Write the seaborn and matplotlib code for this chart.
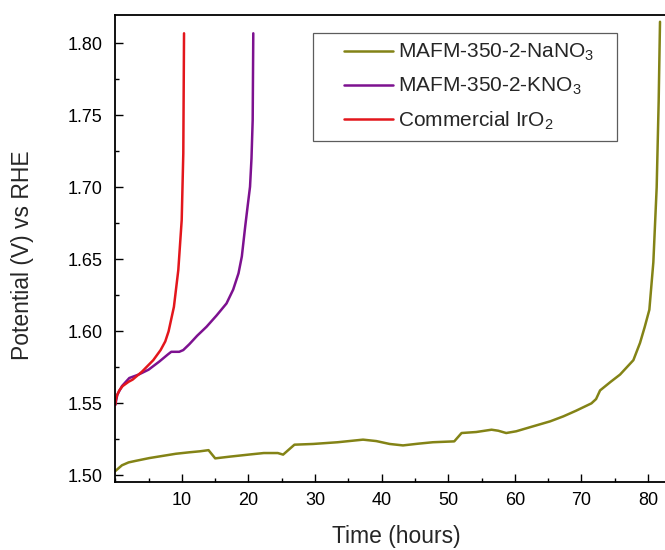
import matplotlib
matplotlib.use("Agg")
import matplotlib.pyplot as plt
from matplotlib.ticker import MultipleLocator
from matplotlib.legend_handler import HandlerLine2D
import seaborn as sns
import pandas as pd

# ---- data ----
series_names = ["MAFM-350-2-NaNO$_3$", "MAFM-350-2-KNO$_3$", "Commercial IrO$_2$"]
series_colors = ["#838316", "#7d1190", "#e3161c"]

t_na = [0, 0.5, 1, 2, 3, 5.1, 7.1, 9.1, 11.1, 12.7, 14.0, 15.0, 17.2, 20.2, 22.3, 24.4,
        25.2, 26.9, 29.7, 33.4, 37.2, 39.2, 41.2, 43.2, 45.5, 47.7, 50.9, 52.0, 54.2,
        56.5, 57.5, 58.7, 60.2, 62.7, 65.3, 67.3, 69.2, 71.5, 72.2, 72.8, 74.4, 75.8,
        77.8, 78.8, 79.5, 80.2, 80.8, 81.3, 81.6, 81.8]
v_na = [1.503, 1.505, 1.507, 1.509, 1.510, 1.512, 1.5135, 1.515, 1.516, 1.5167, 1.5175,
        1.5118, 1.513, 1.5145, 1.5155, 1.5155, 1.5144, 1.5213, 1.5218, 1.523, 1.5248,
        1.5238, 1.5218, 1.5208, 1.522, 1.523, 1.5236, 1.5294, 1.5301, 1.5317, 1.5310,
        1.5294, 1.5306, 1.534, 1.5375, 1.541, 1.5449, 1.550, 1.553, 1.559, 1.565,
        1.570, 1.580, 1.592, 1.603, 1.615, 1.648, 1.700, 1.760, 1.815]

t_k = [0, 0.3, 1.0, 2.1, 3.5, 5.0, 6.6, 7.9, 8.4, 9.6, 10.2, 11.1, 12.3, 13.7, 15.2,
       16.7, 17.7, 18.5, 19.0, 19.5, 19.9, 20.23, 20.45, 20.63, 20.72]
v_k = [1.549, 1.556, 1.562, 1.5676, 1.570, 1.5734, 1.579, 1.584, 1.5858, 1.5858, 1.587,
       1.591, 1.597, 1.6032, 1.611, 1.6194, 1.629, 1.6403, 1.652, 1.6726, 1.688,
       1.7004, 1.720, 1.7467, 1.807]

t_ir = [0, 0.1, 0.3, 0.6, 1.1, 2.0, 2.6, 4.0, 5.7, 6.8, 7.5, 8.0, 8.8, 9.46, 9.97,
        10.21, 10.32]
v_ir = [1.549, 1.553, 1.556, 1.559, 1.562, 1.565, 1.5665, 1.572, 1.580, 1.587, 1.593,
        1.600, 1.617, 1.6426, 1.6773, 1.7236, 1.807]

x_ticks = [10, 20, 30, 40, 50, 60, 70, 80]
y_ticks = [1.50, 1.55, 1.60, 1.65, 1.70, 1.75, 1.80]

frames = []
for name, t, v in zip(series_names, [t_na, t_k, t_ir], [v_na, v_k, v_ir]):
    frames.append(pd.DataFrame({"Time": t, "Potential": v, "Sample": name}))
df = pd.concat(frames, ignore_index=True)

sns.set_theme(style="ticks")
plt.rcParams["font.family"] = ["Liberation Sans", "DejaVu Sans"]
plt.rcParams["mathtext.fontset"] = "custom"
plt.rcParams["mathtext.rm"] = "Liberation Sans"
plt.rcParams["mathtext.it"] = "Liberation Sans:italic"

fig = plt.figure(figsize=(6.65, 5.5), dpi=100)
ax = fig.add_axes([0.1734, 0.1242, 0.8266, 0.8485])

sns.lineplot(data=df, x="Time", y="Potential", hue="Sample", hue_order=series_names,
             palette=series_colors, sort=False, estimator=None, units="Sample",
             linewidth=1.8, ax=ax)

ax.set_xlim(0, 82.55)
ax.set_ylim(1.4956, 1.8197)
ax.set_xticks(x_ticks)
ax.set_xticklabels([str(x) for x in x_ticks])
ax.set_yticks(y_ticks)
ax.set_yticklabels([f"{y:.2f}" for y in y_ticks])
ax.xaxis.set_minor_locator(MultipleLocator(5))
ax.yaxis.set_minor_locator(MultipleLocator(0.025))
ax.tick_params(which="both", direction="in", labelsize=13, colors="black",
               width=1.0, top=False, right=False)
ax.tick_params(which="major", length=6)
ax.tick_params(which="minor", length=3.2)
ax.tick_params(axis="y", which="major", pad=9)
ax.tick_params(axis="x", which="major", pad=7.5)

for side in ["left", "bottom", "top"]:
    ax.spines[side].set_linewidth(1.3)
    ax.spines[side].set_color("black")
ax.spines["right"].set_visible(False)

ax.set_xlabel("Time (hours)", fontsize=16.5)
ax.set_ylabel("Potential (V) vs RHE", fontsize=16.5)
ax.xaxis.set_label_coords((396 - 115.3) / 549.7, (481.7 - 537) / 466.7)
ax.xaxis.label.set_verticalalignment("center")
ax.yaxis.set_label_coords((22 - 115.3) / 549.7, (481.7 - 255) / 466.7)
ax.yaxis.label.set_verticalalignment("center")


class OffsetLineHandler(HandlerLine2D):
    """Line handle that leaves a blank gap on its left, like the original legend."""
    def get_xdata(self, legend, xdescent, ydescent, width, height, fontsize):
        gap = 1.05 * fontsize
        return [-xdescent + gap, -xdescent + width], [-xdescent + 0.5 * width]


leg_x0 = (313 - 115.3) / 549.7
leg_x1 = (617 - 115.3) / 549.7
leg_top = (481.7 - 32.7) / 466.7

handles, labels = ax.get_legend_handles_labels()
leg = ax.legend(handles, labels, loc="upper left",
                bbox_to_anchor=(leg_x0, leg_top - 0.3, leg_x1 - leg_x0, 0.3),
                mode="expand",
                fontsize=15, frameon=True, fancybox=False, handlelength=3.4,
                borderpad=0.45, labelspacing=0.6, handletextpad=0.25,
                borderaxespad=0.0,
                handler_map={h: OffsetLineHandler() for h in handles})
leg.get_frame().set_edgecolor("#333333")
leg.get_frame().set_linewidth(0.9)
for h in leg.legend_handles:
    h.set_linewidth(1.8)

fig.savefig("out.png", dpi=100)
